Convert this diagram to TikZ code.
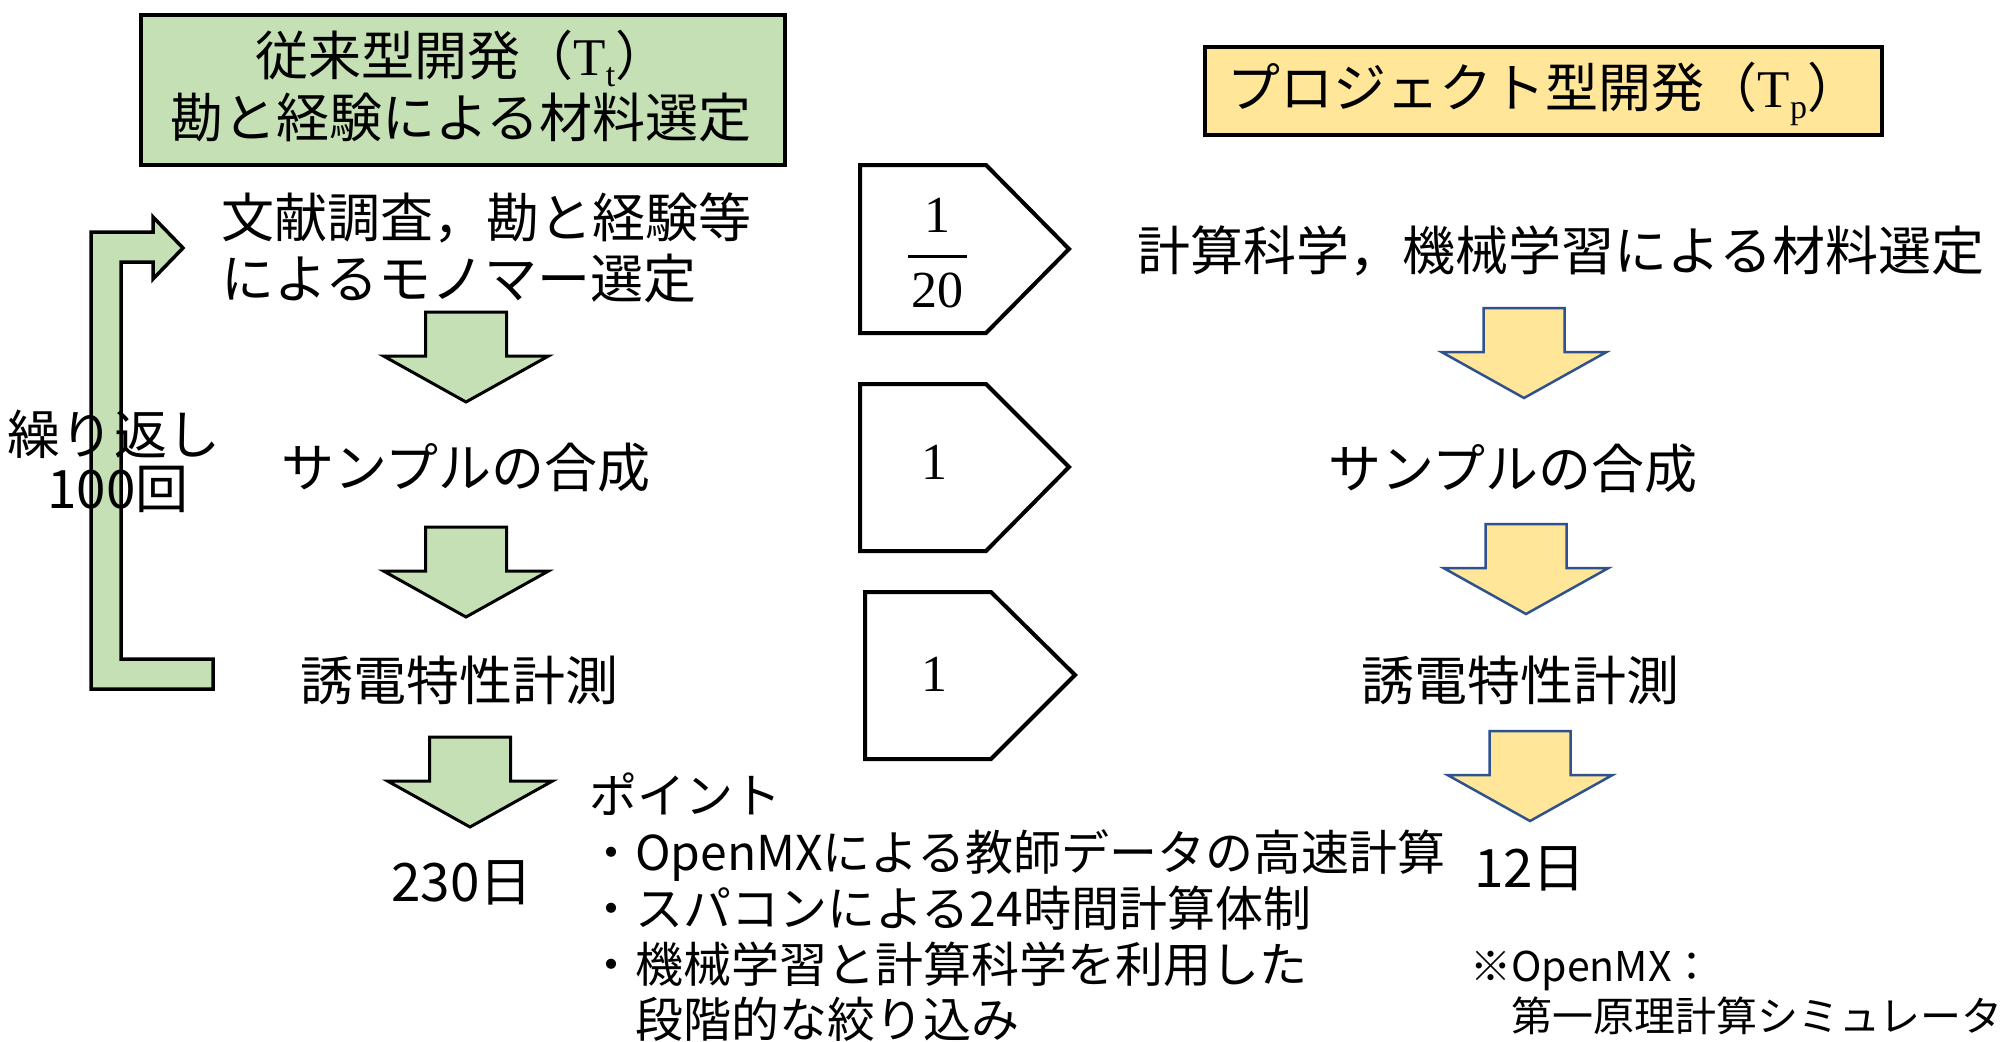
\documentclass[tikz,border=0pt]{standalone}
\usepackage{fontspec}
\setmainfont{Noto Sans CJK JP}
\newfontfamily\serif{Liberation Serif}
\definecolor{gfill}{HTML}{C5E0B4}
\definecolor{yfill}{HTML}{FFE699}
\definecolor{bline}{HTML}{2F528F}
\tikzset{
  big/.style={font=\fontsize{53}{60}\selectfont, inner sep=0pt},
  mid/.style={font=\fontsize{48}{56}\selectfont, inner sep=0pt},
  small/.style={font=\fontsize{41}{48}\selectfont, inner sep=0pt},
  num/.style={font=\serif\fontsize{52}{60}\selectfont, inner sep=0pt},
  gbox/.style={draw=black, line width=4, fill=gfill, inner sep=0pt},
  ybox/.style={draw=black, line width=4, fill=yfill, inner sep=0pt},
  garrow/.style={draw=black, line width=3, fill=gfill, line join=miter},
  yarrow/.style={draw=bline, line width=2.5, fill=yfill, line join=miter},
  pent/.style={draw=black, line width=4, fill=white, line join=miter},
  loopar/.style={draw=black, line width=3.5, fill=gfill, line join=miter},
}
\newcommand{\dnarr}[3]{%
  \draw[#1] ({#2-40.5},#3) -- ({#2+40.5},#3) -- ({#2+40.5},{#3+44}) -- ({#2+82.5},{#3+44})
    -- (#2,{#3+90}) -- ({#2-82.5},{#3+44}) -- ({#2-40.5},{#3+44}) -- cycle;}
\newcommand{\subT}[1]{\raisebox{-11pt}{\serif\fontsize{34}{34}\selectfont #1}}
\begin{document}
\begin{tikzpicture}[x=1pt,y=-1pt]
\useasboundingbox (0,0) rectangle (2004,1041);
\fill[white] (0,0) rectangle (2004,1041);

% title boxes
\node[gbox, anchor=north west, minimum width=644, minimum height=150] (gtitle) at (139,13) {};
\node[big, anchor=base] (gt1) at (462,75) {従来型開発（{\serif T}\subT{t}）};
\node[big, anchor=base] (gt2) at (461,137) {勘と経験による材料選定};

\node[ybox, anchor=north west, minimum width=677, minimum height=88] (ytitle) at (1203,45) {};
\node[big, anchor=base] (yt1) at (1544,107) {プロジェクト型開発（{\serif T}\subT{p}）};

% loop arrow
\draw[loopar] (91,689) -- (213,689) -- (213,659) -- (121,659) -- (121,262) -- (153,262)
  -- (153,279) -- (183,248) -- (153,217) -- (153,232) -- (91,232) -- cycle;
\node[big, anchor=base] (lp1) at (114,454) {繰り返し};
\node[big, anchor=base] (lp2) at (118,508) {100回};

% left column
\node[big, anchor=base west] (l1a) at (221,237) {文献調査，勘と経験等};
\node[big, anchor=base west] (l1b) at (221,298) {によるモノマー選定};
\dnarr{garrow}{466}{312}
\node[big, anchor=base] (l2) at (466,487) {サンプルの合成};
\dnarr{garrow}{466}{527}
\node[big, anchor=base] (l3) at (459,700) {誘電特性計測};
\dnarr{garrow}{470}{737}
\node[big, anchor=base] (l4) at (462,901) {230日};

% pentagons
\draw[pent] (860,165) -- (986,165) -- (1069,249) -- (986,333) -- (860,333) -- cycle;
\node[num, anchor=base] (f1n) at (937,232) {1};
\draw[line width=3] (908,256) -- (967,256);
\node[num, anchor=base] (f1d) at (937,307) {20};
\draw[pent] (860,384) -- (986,384) -- (1069,467) -- (986,551) -- (860,551) -- cycle;
\node[num, anchor=base] (f2) at (934,479) {1};
\draw[pent] (865,592) -- (991,592) -- (1075,675) -- (991,759) -- (865,759) -- cycle;
\node[num, anchor=base] (f3) at (934,691) {1};

% right column
\node[big, anchor=base] (r1) at (1561,270) {計算科学，機械学習による材料選定};
\dnarr{yarrow}{1524}{308}
\node[big, anchor=base] (r2) at (1513,488) {サンプルの合成};
\dnarr{yarrow}{1526}{524}
\node[big, anchor=base] (r3) at (1520,700) {誘電特性計測};
\dnarr{yarrow}{1530}{731}
\node[big, anchor=base] (r4) at (1530,887) {12日};

% points
\node[mid, anchor=base west] (pt) at (589,813) {ポイント};
\node[mid, anchor=base west] (b1) at (587,870) {・OpenMXによる教師データの高速計算};
\node[mid, anchor=base west] (b2) at (587,926) {・スパコンによる24時間計算体制};
\node[mid, anchor=base west] (b3) at (587,982) {・機械学習と計算科学を利用した};
\node[mid, anchor=base west] (b4) at (587,1037) {　段階的な絞り込み};

% note
\node[small, anchor=base west] (n1) at (1470,981) {※OpenMX：};
\node[small, anchor=base west] (n2) at (1470,1031) {　第一原理計算シミュレータ};
\end{tikzpicture}
\end{document}
